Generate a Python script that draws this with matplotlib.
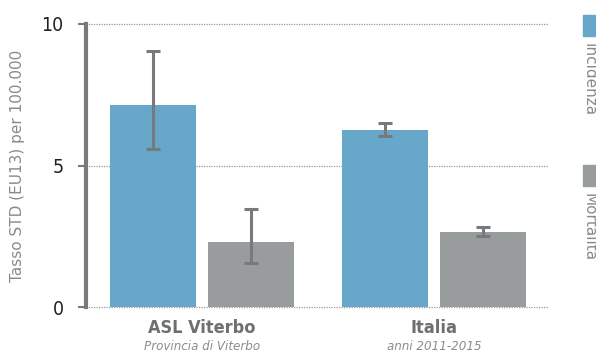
import matplotlib
matplotlib.use("Agg")
import matplotlib.pyplot as plt
from matplotlib.patches import Rectangle
import numpy as np

groups = ["ASL Viterbo", "Italia"]
subtitles = ["Provincia di Viterbo", "anni 2011-2015"]
series = ["Incidenza", "Mortalità"]
incidenza = [7.14, 6.25]
incidenza_lo = [5.59, 6.03]
incidenza_hi = [9.05, 6.49]
mortalita = [2.31, 2.64]
mortalita_lo = [1.54, 2.51]
mortalita_hi = [3.47, 2.83]
yticks = [0, 5, 10]

c_inc = "#67a7c9"
c_mor = "#999c9d"
c_err = "#777a7c"

fig = plt.figure(figsize=(5.96, 3.56), dpi=100)
ax = fig.add_axes([0.1443, 0.1376, 0.7752, 0.795])

x = np.arange(len(groups))
w = 0.37
off = 0.211
for vals, lo, hi, col, sgn in [(incidenza, incidenza_lo, incidenza_hi, c_inc, -1),
                               (mortalita, mortalita_lo, mortalita_hi, c_mor, 1)]:
    pos = x + sgn * off
    ax.bar(pos, vals, width=w, color=col, zorder=2)
    err = [np.array(vals) - np.array(lo), np.array(hi) - np.array(vals)]
    ax.errorbar(pos, vals, yerr=err, fmt="none", ecolor=c_err, elinewidth=2.2,
                capsize=5, capthick=2.2, zorder=3)

ax.set_xlim(-0.5, 1.49)
ax.set_ylim(0, 10)
ax.set_yticks(yticks)
ax.set_yticklabels([str(t) for t in yticks], fontsize=14, color="#222222",
                   fontstretch="condensed")
for t in yticks:
    ax.axhline(t, color="#999999", lw=0.9, ls=(0, (1, 1)), zorder=1, clip_on=False)
for s in ["top", "right", "bottom"]:
    ax.spines[s].set_visible(False)
ax.spines["left"].set_color("#77797b")
ax.spines["left"].set_linewidth(3)
ax.spines["left"].set_zorder(4)
ax.tick_params(axis="y", length=6, width=1.5, color="#77797b", pad=10)
ax.set_xticks([])
ax.set_ylabel("Tasso STD (EU13) per 100.000", fontsize=11, color="#8a8a8a",
              labelpad=12)

for i, (g, s) in enumerate(zip(groups, subtitles)):
    ax.text(x[i], -0.42, g, ha="center", va="top", fontsize=13, fontweight="bold",
            color="#6d6f71", fontstretch="condensed")
    ax.text(x[i], -1.15, s, ha="center", va="top", fontsize=9.5, style="italic",
            color="#8a8c8e", fontstretch="condensed")

# legend on right
for lab, col, ytop in [(series[0], c_inc, 15), (series[1], c_mor, 165)]:
    fig.patches.append(Rectangle((583 / 596, 1 - (ytop + 21) / 356), 0.03, 21 / 356,
                                 transform=fig.transFigure, color=col, zorder=5))
    fig.text(589 / 596, 1 - (ytop + 28) / 356, lab, rotation=270, ha="center", va="top",
             fontsize=11, color="#8a8a8a")

fig.savefig("out.png", dpi=100)
